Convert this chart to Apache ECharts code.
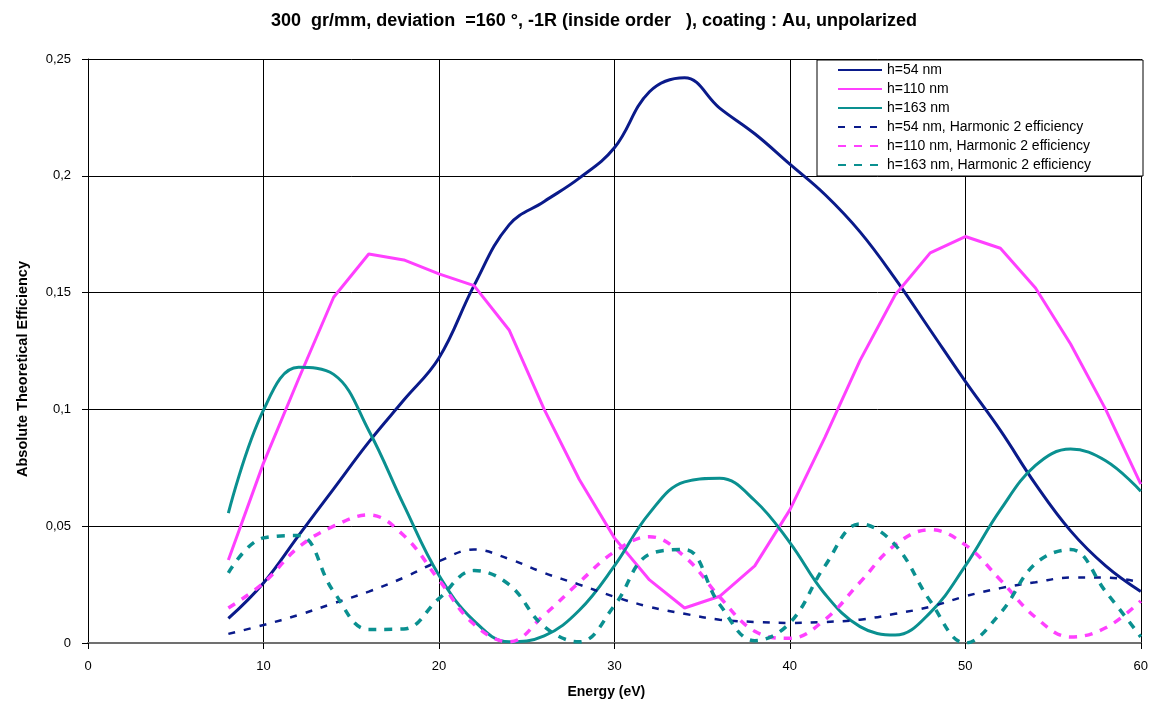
<!DOCTYPE html>
<html>
<head>
<meta charset="utf-8">
<script src="https://cdn.jsdelivr.net/npm/echarts@6/dist/echarts.min.js"></script>
<style>
  html, body { margin: 0; padding: 0; background: #fff; }
  #chart { width: 1151px; height: 707px; }
</style>
</head>
<body>
<div id="chart"></div>
<script>
// energy sampling (eV)
const energy = [8, 10, 12, 14, 16, 18, 20, 22, 24, 26, 28, 30, 32, 34, 36, 38, 40, 42, 44, 46, 48, 50, 52, 54, 56, 58, 60];

const h54 = [0.0105, 0.0257, 0.046, 0.066, 0.086, 0.104, 0.122, 0.153, 0.179, 0.189, 0.199, 0.212, 0.236, 0.242, 0.229, 0.218, 0.205, 0.192, 0.176, 0.156, 0.134, 0.112, 0.091, 0.068, 0.048, 0.033, 0.022];
const h110 = [0.0355, 0.077, 0.113, 0.148, 0.1665, 0.164, 0.158, 0.153, 0.134, 0.1, 0.07, 0.045, 0.027, 0.015, 0.02, 0.033, 0.057, 0.088, 0.121, 0.149, 0.167, 0.174, 0.169, 0.152, 0.128, 0.1, 0.068];
const h163 = [0.0556, 0.0997, 0.118, 0.115, 0.091, 0.059, 0.029, 0.0095, 0.0005, 0.003, 0.014, 0.033, 0.0556, 0.069, 0.0705, 0.061, 0.043, 0.021, 0.007, 0.0034, 0.013, 0.033, 0.057, 0.076, 0.083, 0.078, 0.065];
const h54H2 = [0.0039, 0.0077, 0.012, 0.017, 0.022, 0.028, 0.035, 0.040, 0.036, 0.030, 0.025, 0.0198, 0.0155, 0.0125, 0.010, 0.009, 0.0086, 0.009, 0.010, 0.0125, 0.0155, 0.020, 0.0235, 0.026, 0.028, 0.028, 0.026];
const h110H2 = [0.015, 0.0257, 0.041, 0.050, 0.0548, 0.046, 0.027, 0.008, 0.0005, 0.012, 0.026, 0.039, 0.0455, 0.037, 0.0197, 0.005, 0.002, 0.010, 0.026, 0.042, 0.0485, 0.042, 0.027, 0.011, 0.0026, 0.0065, 0.018];
const h163H2 = [0.030, 0.045, 0.046, 0.022, 0.0058, 0.006, 0.019, 0.031, 0.025, 0.007, 0.0005, 0.016, 0.038, 0.040, 0.0165, 0.001, 0.0086, 0.033, 0.051, 0.042, 0.018, 0.0, 0.0128, 0.034, 0.040, 0.022, 0.0026];

const seriesNames = [
    'h=54 nm', 'h=110 nm', 'h=163 nm',
    'h=54 nm, Harmonic 2 efficiency', 'h=110 nm, Harmonic 2 efficiency', 'h=163 nm, Harmonic 2 efficiency'
];

const NAVY = '#0a1a8a';
const MAGENTA = '#ff40ff';
const TEAL = '#0a9090';

const pairs = ys => energy.map((e, i) => [e, ys[i]]);

function makeSeries(name, ys, color, width, dash, smooth) {
    return {
        name: name,
        type: 'line',
        data: pairs(ys),
        showSymbol: false,
        symbol: 'none',
        smooth: smooth,
        lineStyle: { color: color, width: width, type: dash },
        itemStyle: { color: color }
    };
}

const chart = echarts.init(document.getElementById('chart'), null, { renderer: 'canvas' });

const option = {
    backgroundColor: '#ffffff',
    animation: false,
    textStyle: { fontFamily: 'Liberation Sans, Arial, sans-serif' },
    title: {
        text: '300  gr/mm, deviation  =160 °, -1R (inside order   ), coating : Au, unpolarized',
        left: 589,
        textAlign: 'center',
        top: 7,
        textStyle: { fontSize: 18, fontWeight: 'bold', color: '#000' }
    },
    legend: {
        orient: 'vertical',
        left: 817,
        top: 60,
        padding: [3, 52, 4, 20],
        itemWidth: 44,
        itemHeight: 14,
        itemGap: 5,
        backgroundColor: '#fff',
        borderColor: '#000',
        borderWidth: 1,
        borderRadius: 0,
        itemStyle: { opacity: 0 },
        textStyle: { fontSize: 14, color: '#000' },
        data: seriesNames
    },
    grid: {
        left: 88,
        right: 6,
        top: 59,
        bottom: 64
    },
    xAxis: {
        type: 'value',
        min: 0,
        max: 60,
        interval: 10,
        name: 'Energy (eV)',
        nameLocation: 'middle',
        nameGap: 42,
        nameTextStyle: { fontSize: 14, fontWeight: 'bold', color: '#000', padding: [0, 16, 0, 0] },
        axisLine: { show: true, onZero: false, lineStyle: { color: '#707070', width: 2 } },
        axisTick: { show: true, length: 6, lineStyle: { color: '#000' } },
        axisLabel: { fontSize: 13, color: '#000', margin: 17 },
        splitLine: { show: true, lineStyle: { color: '#000', width: 1 } }
    },
    yAxis: {
        type: 'value',
        min: 0,
        max: 0.25,
        interval: 0.05,
        name: 'Absolute Theoretical Efficiency',
        nameLocation: 'middle',
        nameGap: 58,
        nameTextStyle: { fontSize: 14.5, fontWeight: 'bold', color: '#000', padding: [0, 36, 0, 0] },
        axisLine: { show: true, lineStyle: { color: '#000', width: 1 } },
        axisTick: { show: true, length: 6, lineStyle: { color: '#000' } },
        axisLabel: {
            fontSize: 13, color: '#000', margin: 17,
            formatter: v => String(Math.round(v * 100) / 100).replace('.', ',')
        },
        splitLine: { show: true, lineStyle: { color: '#000', width: 1 } }
    },
    series: [
        makeSeries(seriesNames[0], h54, NAVY, 3, 'solid', 0.4),
        makeSeries(seriesNames[1], h110, MAGENTA, 3, 'solid', false),
        makeSeries(seriesNames[2], h163, TEAL, 3, 'solid', 0.4),
        makeSeries(seriesNames[3], h54H2, NAVY, 2.5, [7, 9], 0.4),
        makeSeries(seriesNames[4], h110H2, MAGENTA, 3.5, [8, 8], 0.4),
        makeSeries(seriesNames[5], h163H2, TEAL, 3.5, [8, 8], 0.4)
    ]
};

chart.setOption(option);
</script>
</body>
</html>
